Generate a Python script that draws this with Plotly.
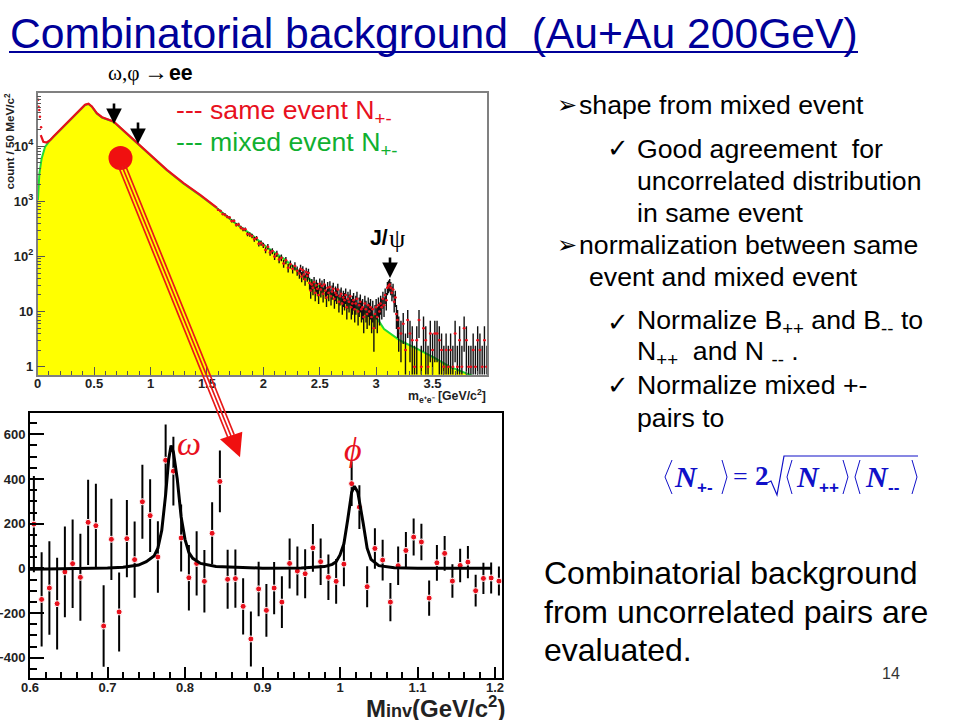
import plotly.graph_objects as go

# ---------- upper panel data ----------
mixed_x = [0.002,0.015,0.035,0.065,0.11,0.14,0.257,0.376,0.42,0.45,0.48,0.524,0.57,0.672,0.85,0.997,1.145,1.293,1.44,1.59,1.737,1.885,2.03,2.18,2.33,2.5,2.7,2.85,3.0,3.07,3.216,3.364,3.51,3.66,3.81,3.88]
mixed_y = [1050,3180,5970,9700,12800,14800,25800,45000,55800,58000,51800,39000,33000,27700,12800,6850,3660,2090,1280,745,420,258,148,91,50,28,16,11,8,4.8,2.95,2.1,1.48,0.98,0.74,0.65]
same_x = [0.027,0.05,0.08,0.11,0.14,0.257,0.376,0.42,0.45,0.48,0.524,0.57,0.672,0.85,0.997,1.145,1.293,1.44,1.59]
same_y = [15850,12000,11650,12800,15000,26000,45500,56500,59000,52500,39500,33500,28000,13000,7000,3720,2130,1310,760]
low_x = [0.004,0.008,0.014,0.02,0.03]
low_y = [69000,52000,45000,34000,22000]
noise_x = [1.60,1.62,1.64,1.66,1.68,1.70,1.72,1.74,1.76,1.78,1.80,1.82,1.84,1.86,1.88,1.90,1.92,1.94,1.96,1.98,2.00,2.02,2.04,2.06,2.08,2.10,2.12,2.14,2.16,2.18,2.20,2.22,2.24,2.26,2.28,2.30,
           2.32,2.33,2.34,2.35,2.36,2.37,2.38,2.39,2.40,2.41,2.42,2.43,2.44,2.45,2.46,2.47,2.48,2.49,2.50,2.51,2.52,2.53,2.54,2.55,2.56,2.57,2.58,2.59,2.60,2.61,2.62,2.63,2.64,2.65,2.66,2.67,2.68,2.69,2.70,
           2.71,2.72,2.73,2.74,2.75,2.76,2.77,2.78,2.79,2.80,2.81,2.82,2.83,2.84,2.85,2.86,2.87,2.88,2.89,2.90,2.91,2.92,2.93,2.94,2.95,2.96,2.97,2.98,2.99,3.00,3.01,3.02,3.03,3.04,3.05,3.06,3.07,3.08,3.09,3.10,
           3.11,3.12,3.13,3.14,3.15,3.16,3.17,3.18,3.19,3.20,3.22,3.24,3.26,3.28,3.30,3.32,3.34,3.36,3.38,3.40,3.42,3.44,3.46,3.48,3.50,3.52,3.54,3.56,3.58,3.60,3.62,3.64,3.66,3.68,3.70,3.72,3.74,3.76,3.78,3.80,3.82,3.84,3.86,3.88,3.90,3.92,3.94,3.96,3.98]
noise_y = [700,665,590,570,525,505,440,440,375,380,335,310,310,255,250,235,205,215,170,175,160,130,150,118,125,100,112,88,95,74,85,62,72,60,67,55,
           49,60,43,56,47,38,52,44,50,33,24,31,27,34,22,30,26,20,32,25,29,21,31,24,18,27,22,28,19,23,26,17,22,20,25,15,19,21,14,
           18,16,20,12,17,15,19,12,14,16,11,14,17,10,13,15,11,12,8,14,11,9,13,10,12,8,11,5,9,12,8,13,10,14,12,17,13,20,16,27,
           29,31,27,22,25,15,18,9,7,5,4,6,2,7,4,3,1,3,7,1,5,3,1,4,2,4,4,3,2,1,2,1,2,1,4,1,3,1,5,3,1,1,2,1,3,2,1,3,1]

# ---------- lower panel data ----------
minv_x = [0.605,0.615,0.625,0.635,0.645,0.655,0.665,0.675,0.685,0.695,0.705,0.715,0.725,0.735,0.745,0.755,0.765,0.775,0.785,0.795,0.805,0.815,0.825,0.835,0.845,0.855,0.865,0.875,0.885,0.895,0.905,0.915,0.925,0.935,0.945,0.955,0.965,0.975,0.985,0.995,1.005,1.015,1.025,1.035,1.045,1.055,1.065,1.075,1.085,1.095,1.105,1.115,1.125,1.135,1.145,1.155,1.165,1.175,1.185,1.195,1.205]
minv_y = [198,-139,-88,-158,-16,21,-40,206,191,-258,130,-195,133,39,298,236,51,484,435,136,-42,22,-58,157,389,-49,-46,-170,-316,-92,-188,-88,-151,22,-12,-24,92,30,-40,-58,19,379,274,-82,89,37,-151,12,80,140,118,-133,25,67,-57,13,28,-100,-45,-43,-57]
minv_err = [215,211,209,205,203,198,195,191,188,182,182,177,173,171,166,163,160,160,154,150,147,144,140,139,138,132,130,126,123,122,118,117,116,112,110,110,107,104,102,100,99,100,98,92,91,91,86,86,83,83,82,79,80,78,75,75,72,71,70,69,65]
fit_x = [0.60,0.66,0.70,0.72,0.74,0.75,0.76,0.765,0.77,0.775,0.779,0.782,0.785,0.79,0.795,0.80,0.805,0.81,0.82,0.84,0.87,0.90,0.95,0.98,0.99,0.995,1.0,1.005,1.01,1.015,1.0185,1.023,1.03,1.035,1.04,1.05,1.07,1.10,1.196]
fit_y = [-4,-2,2,5,15,30,55,90,170,330,490,550,520,400,230,130,70,45,22,8,3,1,2,8,18,30,60,110,220,340,368,340,200,90,40,12,3,1,0]

xticks_top = [0,0.5,1,1.5,2,2.5,3,3.5]
xticklabels_top = ["0","0.5","1","1.5","2","2.5","3","3.5"]
yticks_top = [1,10,100,1000,10000]
yticklabels_top = ["1","10","10<sup>2</sup>","10<sup>3</sup>","10<sup>4</sup>"]
yminor_top = [m*10**e for e in range(0,5) for m in range(2,10)]
xticks_bot = [0.6,0.7,0.8,0.9,1.0,1.1,1.2]
xticklabels_bot = ["0.6","0.7","0.8","0.9","1","1.1","1.2"]
yticks_bot = [-400,-200,0,200,400,600]

W, H = 960, 720
def px(x): return x / W
def py(y): return 1 - y / H

SANS = "Liberation Sans, Arial, sans-serif"
SERIF = "Liberation Serif, Times New Roman, serif"
fig = go.Figure()

# upper panel
fig.add_trace(go.Scatter(x=mixed_x, y=mixed_y, mode="lines", fill="tozeroy", fillcolor="#ffff00",
                         line=dict(color="#22dd33", width=2), xaxis="x", yaxis="y", showlegend=False))
fig.add_trace(go.Scatter(x=same_x, y=same_y, mode="lines", line=dict(color="#e8101c", width=2.2),
                         xaxis="x", yaxis="y", showlegend=False))
fig.add_trace(go.Scatter(x=low_x, y=low_y, mode="markers", marker=dict(color="#e8101c", size=2.5),
                         xaxis="x", yaxis="y", showlegend=False))
err_up = [1.4 * v ** 0.5 for v in noise_y]
err_dn = [min(1.4 * v ** 0.5, v - 0.72) for v in noise_y]
fig.add_trace(go.Scatter(x=noise_x, y=noise_y, mode="markers", marker=dict(color="#e8101c", size=2.5),
                         error_y=dict(type="data", array=err_up, arrayminus=err_dn, color="#111111", thickness=1.4, width=0),
                         error_x=dict(type="constant", value=0.012, color="#e8101c", thickness=1.5, width=0),
                         xaxis="x", yaxis="y", showlegend=False))
# lower panel
fig.add_trace(go.Scatter(x=minv_x, y=minv_y, mode="markers",
                         marker=dict(color="#e8101c", size=6, symbol="circle", line=dict(color="white", width=1)),
                         error_y=dict(type="data", array=minv_err, color="black", thickness=2, width=0),
                         xaxis="x2", yaxis="y2", showlegend=False))
fig.add_trace(go.Scatter(x=fit_x, y=fit_y, mode="lines", line=dict(color="black", width=3),
                         xaxis="x2", yaxis="y2", showlegend=False))

tickfont_top = dict(family=SANS, size=13, color="#222222", weight="bold")
tickfont_bot = dict(family=SANS, size=13, color="#222222", weight="bold")
fig.update_layout(
    width=W, height=H, margin=dict(l=0, r=0, t=0, b=0, autoexpand=False), paper_bgcolor="white", plot_bgcolor="white",
    xaxis=dict(domain=[px(37.7), px(486.7)], range=[0, 3.98], anchor="y", showgrid=False, zeroline=False,
               tickmode="array", tickvals=xticks_top, ticktext=xticklabels_top, tickfont=tickfont_top,
               ticks="inside", ticklen=8, tickwidth=1, tickcolor="#555555", ticklabelstandoff=-4,
               minor=dict(dtick=0.1, ticks="inside", ticklen=4, tickcolor="#555555", showgrid=False),
               showline=True, linecolor="#808080", linewidth=1.5, mirror=True),
    yaxis=dict(domain=[py(375), py(93.3)], type="log", range=[-0.151, 4.958], anchor="x", showgrid=False, zeroline=False,
               tickmode="array", tickvals=yticks_top, ticktext=yticklabels_top, tickfont=tickfont_top,
               ticks="inside", ticklen=8, tickwidth=1, tickcolor="#555555",
               minor=dict(tickmode="array", tickvals=yminor_top, ticks="inside", ticklen=4, tickcolor="#555555", showgrid=False),
               showline=True, linecolor="#808080", linewidth=1.5, mirror=True),
    xaxis2=dict(domain=[px(30), px(501.7)], range=[0.6, 1.2086], anchor="y2", showgrid=False, zeroline=False,
                tickmode="array", tickvals=xticks_bot, ticktext=xticklabels_bot, tickfont=tickfont_bot,
                ticks="inside", ticklen=11, tickwidth=2, tickcolor="black", ticklabelstandoff=-4,
                minor=dict(dtick=0.02, ticks="inside", ticklen=6, tickwidth=2, tickcolor="black", showgrid=False),
                showline=True, linecolor="black", linewidth=2, mirror=True),
    yaxis2=dict(domain=[py(678.3), py(412.7)], range=[-492, 696.6], anchor="x2", showgrid=False, zeroline=False,
                tickmode="array", tickvals=yticks_bot, tickfont=tickfont_bot,
                ticks="inside", ticklen=14, tickwidth=2, tickcolor="black",
                minor=dict(dtick=50, ticks="inside", ticklen=7, tickwidth=2, tickcolor="black", showgrid=False),
                showline=True, linecolor="black", linewidth=2, mirror=True),
)

annotations = []
def text(x, y, s, size, color="black", family=SANS, anchor="left", angle=0):
    annotations.append(dict(xref="paper", yref="paper", x=px(x), y=py(y), text=s, showarrow=False,
                            xanchor=anchor, yanchor="middle", align="left", textangle=angle,
                            font=dict(family=family, size=size, color=color), borderpad=0))
def arrow(x, y0, y1):
    annotations.append(dict(xref="paper", yref="paper", x=px(x), y=py(y1), axref="pixel", ayref="pixel",
                            ax=0, ay=y0 - y1, text="", showarrow=True, arrowhead=2, arrowwidth=2.6,
                            arrowsize=1.2, arrowcolor="black"))

BLUE = "#000099"
text(9, 33, "Combinatorial background  (Au+Au 200GeV)", 42.67, BLUE)
text(107, 73, "ω,φ", 21.3, "black", SERIF)
text(143, 72, "→", 24, "black", SERIF)
text(168, 73, "<b>ee</b>", 21.3, "black", SANS)
text(175, 112, "--- same event N<sub>+-</sub>", 26.67, "#e81020")
text(175, 144, "--- mixed event N<sub>+-</sub>", 26.67, "#10b030")
text(369, 238, "<b>J/</b>", 21.3, "black", SANS)
text(388, 239, "ψ", 26, "black", SERIF)
text(9.5, 141, "<b>count / 50 MeV/c<sup>2</sup></b>", 11.7, "#222222", SANS, "center", -90)
text(487, 396, "<b>m<sub>e⁺e⁻</sub> [GeV/c<sup>2</sup>]</b>", 12.3, "#222222", SANS, "right")
text(176, 443, "<i>ω</i>", 34, "#e81020", SERIF)
text(343, 449, "<i>ϕ</i>", 34, "#e81020", SERIF)
text(506, 707, "<b>M<span style=\"font-size:18px\">inv</span>(GeV/c<sup>2</sup>)</b>", 24, "#222222", SANS, "right")

for y, s in [(105, "shape from mixed event"), (245, "normalization between same")]:
    text(578, y, s, 26.67)
    text(556, y, "➢", 24, "black", "DejaVu Sans")
text(588, 277, "event and mixed event", 26.67)
for y in [148, 322, 385]:
    text(606, y, "✓", 26, "black", "DejaVu Sans")
for y, s in [(149, "Good agreement  for"), (181, "uncorrelated distribution"), (213, "in same event"),
             (322, "Normalize B<sub>++</sub> and B<sub>--</sub> to"), (353, "N<sub>++</sub>  and N <sub>--</sub> ."),
             (385, "Normalize mixed +-"), (418, "pairs to")]:
    text(636, y, s, 26.67)
for y, s in [(573, "Combinatorial background"), (612, "from uncorrelated pairs are"), (650, "evaluated.")]:
    text(543, y, s, 32)
text(881, 673, "14", 16, "#333333")

FORM = "#1010c8"
for x, s in [(673, "N"), (795, "N"), (864, "N")]:
    text(x, 476, "<b><i>" + s + "</i></b>", 30, FORM, SERIF)
for x, s in [(696, "+-"), (818, "++"), (887, "--")]:
    text(x, 487, "<b>" + s + "</b>", 17, FORM, SANS)
text(732, 476, "=", 26, FORM, SERIF)
text(754, 476, "<b>2</b>", 27, FORM, SERIF)

for x, y0, y1 in [(114, 102, 124), (138, 121, 144), (390, 256, 278)]:
    arrow(x, y0, y1)
fig.update_layout(annotations=annotations)

def line(x0, y0, x1, y1, color, width):
    fig.add_shape(type="line", xref="paper", yref="paper", x0=px(x0), y0=py(y0), x1=px(x1), y1=py(y1),
                  line=dict(color=color, width=width))
def path(points, color, width=0, fill=None):
    d = "M " + " L ".join(f"{px(a):.5f},{py(b):.5f}" for a, b in points) + (" Z" if fill else "")
    fig.add_shape(type="path", xref="paper", yref="paper", path=d, fillcolor=fill,
                  line=dict(color=color, width=width))

line(9, 52, 858, 52, BLUE, 2)

# big red pointer
fig.add_shape(type="circle", xref="paper", yref="paper", x0=px(108.5), x1=px(132.5), y0=py(170), y1=py(146),
              fillcolor="#f01010", line=dict(width=0))
for d in (-3.2, 0, 3.2):
    line(122 + d, 166 - d * 0.4, 231 + d, 436 - d * 0.4, "#e81818", 1.7)
path([(220, 439.3), (242.3, 431.7), (240, 457.3)], "#f01010", 0, "#f01010")

# formula brackets and radical
for a, b in [(665, 672), (787, 792), (855, 860)]:
    path([(b, 460), (a, 477), (b, 494)], FORM, 1)
for a, b in [(722, 727), (843, 848), (912, 917)]:
    path([(a, 460), (b, 477), (a, 494)], FORM, 1)
path([(767, 483), (771, 481), (777, 495), (784, 456), (918, 456)], FORM, 1.2)

fig.write_html("out.html", config={"displayModeBar": False}, post_script="document.body.style.margin='0';")
